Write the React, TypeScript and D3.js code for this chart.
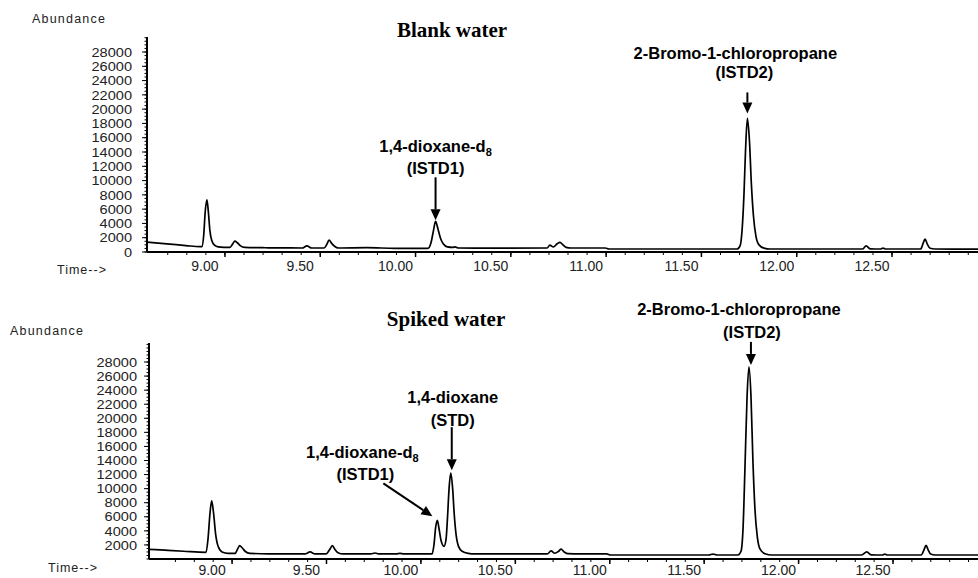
import React, { useEffect, useRef } from "react";
import * as d3 from "d3";

// blank water trace (time in min, abundance)
const blankTime = [
  8.696, 8.8, 8.9, 8.975, 8.984, 8.994, 9.001, 9.0105, 9.018, 9.026, 9.036, 9.05, 9.07, 9.1,
  9.131, 9.145, 9.157, 9.17, 9.185, 9.21, 9.3, 9.4, 9.51, 9.535, 9.56, 9.625, 9.64, 9.651,
  9.665, 9.68, 9.7, 9.85, 10.0, 10.17, 10.186, 10.199, 10.21, 10.222, 10.235, 10.25, 10.272,
  10.3, 10.312, 10.33, 10.55, 10.795, 10.81, 10.828, 10.848, 10.863, 10.878, 10.895, 10.92,
  11.1, 11.12, 11.6, 11.792, 11.808, 11.818, 11.828, 11.836, 11.846, 11.857, 11.867, 11.878,
  11.891, 11.907, 11.933, 11.965, 12.45, 12.469, 12.49, 12.545, 12.558, 12.57, 12.755, 12.768,
  12.778, 12.79, 12.805, 12.83, 13.056,
];
const blankAbundance = [
  1380, 1150, 900, 740, 760, 2500, 5500, 7300, 5600, 3000, 1600, 950, 720, 660,
  650, 1100, 1520, 1300, 900, 650, 600, 580, 560, 850, 560, 560, 1100, 1650,
  1200, 800, 560, 600, 520, 520, 1300, 3000, 4300, 3300, 2000, 1150, 720,
  650, 720, 560, 540, 560, 950, 700, 1150, 1350, 1000, 650, 560,
  560, 420, 420, 420, 900, 3000, 8000, 14000, 18700, 15500, 9500, 5000,
  2200, 1000, 550, 420, 420, 850, 450, 420, 550, 420, 420, 1200,
  1820, 1100, 520, 420, 400,
];

// spiked water trace
const spikedTime = [
  8.666, 8.75, 8.85, 8.968, 8.979, 8.989, 8.998, 9.008, 9.019, 9.032, 9.053, 9.085, 9.122,
  9.135, 9.146, 9.159, 9.175, 9.201, 9.3, 9.492, 9.519, 9.545, 9.604, 9.622, 9.637, 9.651,
  9.667, 9.694, 9.84, 9.863, 9.885, 9.975, 9.995, 10.015, 10.165, 10.175, 10.184, 10.193,
  10.202, 10.212, 10.228, 10.239, 10.247, 10.255, 10.264, 10.274, 10.282, 10.292, 10.305,
  10.324, 10.356, 10.393, 10.775, 10.795, 10.815, 10.835, 10.848, 10.865, 10.885, 10.95,
  11.09, 11.11, 11.63, 11.653, 11.675, 11.785, 11.801, 11.812, 11.822, 11.833, 11.843,
  11.854, 11.864, 11.875, 11.888, 11.902, 11.928, 11.965, 12.44, 12.467, 12.49, 12.55,
  12.563, 12.575, 12.755, 12.77, 12.781, 12.792, 12.805, 12.83, 13.056,
];
const spikedAbundance = [
  1380, 1250, 1100, 950, 3000, 6500, 8250, 6500, 3500, 1800, 1000, 800, 800,
  1400, 1900, 1600, 1100, 800, 740, 720, 1000, 720, 720, 1300, 1900, 1350,
  900, 720, 720, 850, 720, 720, 800, 720, 720, 2000, 4500, 5500,
  4300, 2700, 1800, 2800, 6000, 10000, 12200, 10000, 6500, 3500, 1800,
  1100, 800, 720, 720, 1150, 820, 1100, 1400, 1000, 750, 720,
  720, 570, 570, 700, 570, 570, 1100, 4500, 13000, 23000, 27300,
  23000, 14000, 7000, 3000, 1400, 750, 570, 570, 1000, 600, 570,
  700, 570, 570, 1300, 1950, 1300, 700, 570, 570,
];

const timeTicks = [9.0, 9.5, 10.0, 10.5, 11.0, 11.5, 12.0, 12.5];
const blankYTicks = d3.range(0, 28001, 2000);
const spikedYTicks = d3.range(2000, 28001, 2000);

// peak annotations
const blankPeaks = [
  { lines: ["1,4-dioxane-d", "(ISTD1)"], sub: "8", t: 10.21, v: 4300 },
  { lines: ["2-Bromo-1-chloropropane", "(ISTD2)"], sub: "", t: 11.846, v: 18700 },
];
const spikedPeaks = [
  { lines: ["1,4-dioxane-d", "(ISTD1)"], sub: "8", t: 10.193, v: 5500 },
  { lines: ["1,4-dioxane", "(STD)"], sub: "", t: 10.264, v: 12200 },
  { lines: ["2-Bromo-1-chloropropane", "(ISTD2)"], sub: "", t: 11.843, v: 27300 },
];

// label placement relative to the peak top: [line1 dx, line1 dy, line2 dx, line2 dy, arrow from dx, dy, arrow to dx, dy]
const blankLayout = [
  [0, -69, 0, -47, 0, -44, 0, -1],
  [-12, -59, -3, -40, 0, -26, 0, -5],
];
const spikedLayout = [
  [-75, -62, -72, -40, -54, -37, -5, -4],
  [2, -70, 2, -47, 1, -46, 1, -3],
  [-10, -52, 3, -29, 2, -25, 2, -2],
];

const panels = [
  {
    title: "Blank water", time: blankTime, abundance: blankAbundance, yTicks: blankYTicks,
    peaks: blankPeaks, layout: blankLayout,
    yMax: 30100, tMin: 8.696, left: 147, zeroY: 252, topY: 37,
    titleX: 452, titleY: 37, abundX: 32, abundY: 23, timeX: 57, timeY: 274, tickLabelY: 271, yLabelGap: 15,
  },
  {
    title: "Spiked water", time: spikedTime, abundance: spikedAbundance, yTicks: spikedYTicks,
    peaks: spikedPeaks, layout: spikedLayout,
    yMax: 30700, tMin: 8.666, left: 149, zeroY: 559, topY: 343,
    titleX: 446, titleY: 326, abundX: 10, abundY: 335, timeX: 48, timeY: 572, tickLabelY: 575, yLabelGap: 12,
  },
];

const W = 978;
const H = 578;
const T_MAX = 13.056;
const TICK_SHIFT = 20;
const sans = "'Liberation Sans', Arial, sans-serif";
const serif = "'Liberation Serif', 'Times New Roman', serif";

const Chromatograms = () => {
  const svgRef = useRef<SVGSVGElement>(null);

  useEffect(() => {
    document.body.style.margin = "0";
    const svg = d3.select(svgRef.current).attr("width", W).attr("height", H);
    svg.selectAll("*").remove();
    svg.append("rect").attr("width", W).attr("height", H).attr("fill", "#fff");

    panels.forEach((p) => {
      const g = svg.append("g");
      const x = d3.scaleLinear().domain([p.tMin, T_MAX]).range([p.left, W]);
      const y = d3.scaleLinear().domain([0, p.yMax]).range([p.zeroY, p.topY]);

      // title and axis captions
      g.append("text")
        .attr("x", p.titleX).attr("y", p.titleY)
        .attr("text-anchor", "middle")
        .attr("font-family", serif).attr("font-weight", "bold").attr("font-size", 21)
        .text(p.title);
      g.append("text")
        .attr("x", p.abundX).attr("y", p.abundY)
        .attr("font-family", sans).attr("font-size", 12.5).attr("letter-spacing", 1.2).attr("fill", "#222")
        .text("Abundance");
      g.append("text")
        .attr("x", p.timeX).attr("y", p.timeY)
        .attr("font-family", sans).attr("font-size", 12.5).attr("letter-spacing", 1).attr("fill", "#222")
        .text("Time-->");

      // y axis
      g.append("line")
        .attr("x1", p.left).attr("x2", p.left).attr("y1", y(0)).attr("y2", p.topY)
        .attr("stroke", "#000").attr("stroke-width", 2);
      const minorY = d3.range(0, p.yMax, 500);
      g.selectAll(".ymin").data(minorY).join("line")
        .attr("x1", p.left - 2.5).attr("x2", p.left + 1)
        .attr("y1", (d) => y(d)).attr("y2", (d) => y(d))
        .attr("stroke", "#000").attr("stroke-width", 1);
      g.selectAll(".ymaj").data(p.yTicks).join("line")
        .attr("x1", p.left - 5).attr("x2", p.left)
        .attr("y1", (d) => y(d)).attr("y2", (d) => y(d))
        .attr("stroke", "#000").attr("stroke-width", 1);
      g.selectAll(".ylab").data(p.yTicks).join("text")
        .attr("x", p.left - p.yLabelGap).attr("y", (d) => y(d))
        .attr("dy", "0.36em").attr("text-anchor", "end")
        .attr("font-family", sans).attr("font-size", 13).attr("fill", "#222")
        .attr("textLength", (d) => String(d).length * 8.1)
        .attr("lengthAdjust", "spacingAndGlyphs")
        .text((d) => String(d));

      // x axis
      g.append("line")
        .attr("x1", p.left).attr("x2", W).attr("y1", y(0)).attr("y2", y(0))
        .attr("stroke", "#000").attr("stroke-width", 2);
      const minorX = d3.range(8.7, T_MAX, 0.1);
      g.selectAll(".xmin").data(minorX).join("line")
        .attr("x1", (d) => x(d) + TICK_SHIFT).attr("x2", (d) => x(d) + TICK_SHIFT)
        .attr("y1", y(0)).attr("y2", y(0) + 3)
        .attr("stroke", "#000").attr("stroke-width", 1);
      g.selectAll(".xmaj").data(timeTicks).join("line")
        .attr("x1", (d) => x(d) + TICK_SHIFT).attr("x2", (d) => x(d) + TICK_SHIFT)
        .attr("y1", y(0)).attr("y2", y(0) + 5)
        .attr("stroke", "#000").attr("stroke-width", 1.5);
      g.selectAll(".xlab").data(timeTicks).join("text")
        .attr("x", (d) => x(d)).attr("y", p.tickLabelY)
        .attr("text-anchor", "middle")
        .attr("font-family", sans).attr("font-size", 14).attr("fill", "#222")
        .text((d) => d3.format(".2f")(d));

      // trace
      const pts = p.time.map((t, i) => [t, p.abundance[i]] as [number, number]);
      g.append("path")
        .datum(pts)
        .attr("fill", "none").attr("stroke", "#000").attr("stroke-width", 1.7)
        .attr("stroke-linejoin", "round")
        .attr(
          "d",
          d3.line<[number, number]>()
            .x((d) => x(d[0]))
            .y((d) => y(d[1]))
            .curve(d3.curveMonotoneX)
        );

      // annotations
      p.peaks.forEach((pk, i) => {
        const [l1x, l1y, l2x, l2y, ax1, ay1, ax2, ay2] = p.layout[i];
        const px = x(pk.t);
        const py = y(pk.v);
        const t1 = g.append("text")
          .attr("x", px + l1x).attr("y", py + l1y)
          .attr("text-anchor", "middle")
          .attr("font-family", sans).attr("font-weight", "bold").attr("font-size", 16.5);
        t1.append("tspan").text(pk.lines[0]);
        if (pk.sub) {
          t1.append("tspan").attr("dy", 4).attr("font-size", 11).text(pk.sub);
        }
        g.append("text")
          .attr("x", px + l2x).attr("y", py + l2y)
          .attr("text-anchor", "middle")
          .attr("font-family", sans).attr("font-weight", "bold").attr("font-size", 16.5)
          .text(pk.lines[1]);

        const x1 = px + ax1, y1 = py + ay1, x2 = px + ax2, y2 = py + ay2;
        const len = Math.hypot(x2 - x1, y2 - y1);
        const ux = (x2 - x1) / len, uy = (y2 - y1) / len;
        const hl = 11, hw = 5;
        const bx = x2 - ux * hl, by = y2 - uy * hl;
        g.append("line")
          .attr("x1", x1).attr("y1", y1).attr("x2", bx).attr("y2", by)
          .attr("stroke", "#000").attr("stroke-width", 2);
        g.append("path")
          .attr("d", `M${x2},${y2}L${bx - uy * hw},${by + ux * hw}L${bx + uy * hw},${by - ux * hw}Z`)
          .attr("fill", "#000");
      });
    });
  }, []);

  return (
    <div style={{ width: W, height: H }}>
      <svg ref={svgRef}></svg>
    </div>
  );
};

export default function App() {
  return <Chromatograms />;
}
